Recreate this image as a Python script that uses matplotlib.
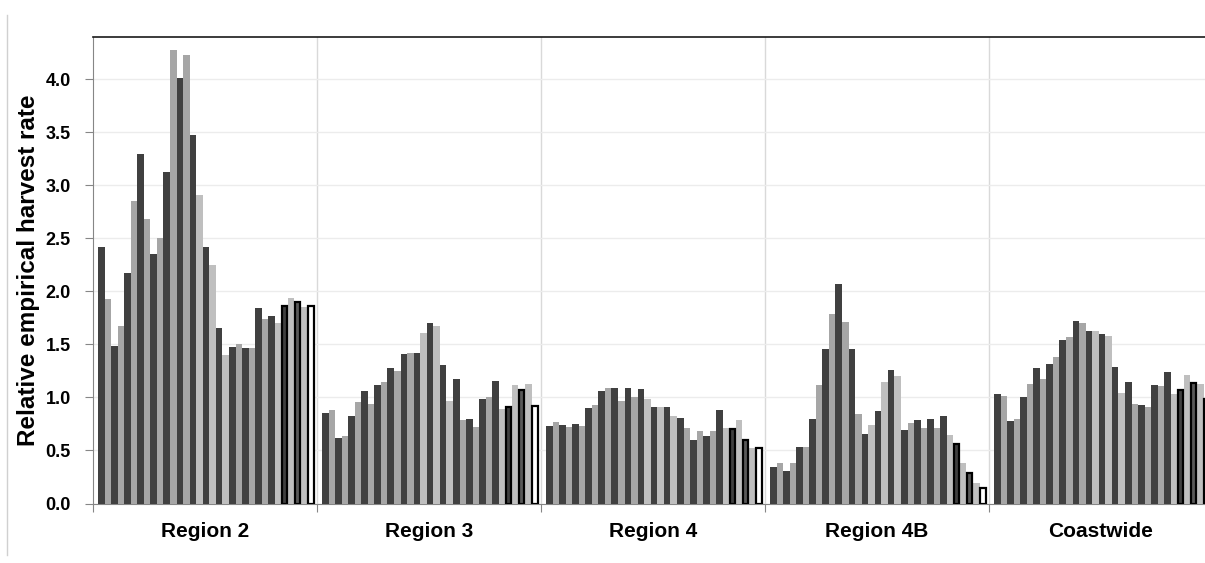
import matplotlib
matplotlib.use("Agg")
import matplotlib.pyplot as plt
from matplotlib.lines import Line2D

regions = ["Region 2", "Region 3", "Region 4", "Region 4B", "Coastwide"]

region2 = [2.42, 1.93, 1.49, 1.67, 2.17, 2.85, 3.30, 2.68, 2.35, 2.50, 3.13, 4.28, 4.01, 4.23,
           3.48, 2.91, 2.42, 2.25, 1.66, 1.40, 1.48, 1.50, 1.47, 1.47, 1.84, 1.74, 1.77, 1.70,
           1.86, 1.94, 1.90, 1.85, 1.86]
region3 = [0.85, 0.88, 0.62, 0.64, 0.83, 0.96, 1.06, 0.94, 1.12, 1.15, 1.28, 1.25, 1.41, 1.42,
           1.42, 1.61, 1.70, 1.67, 1.31, 0.97, 1.17, 0.79, 0.80, 0.72, 0.99, 1.00, 1.16, 0.89,
           0.91, 1.12, 1.07, 1.13, 0.92]
region4 = [0.73, 0.77, 0.74, 0.72, 0.75, 0.73, 0.90, 0.93, 1.06, 1.09, 1.09, 0.97, 1.09, 1.00,
           1.08, 0.99, 0.91, 0.91, 0.91, 0.83, 0.81, 0.71, 0.60, 0.68, 0.64, 0.68, 0.88, 0.71,
           0.70, 0.79, 0.60, 0.52, 0.52]
region4b = [0.34, 0.38, 0.31, 0.38, 0.53, 0.53, 0.80, 1.12, 1.46, 1.79, 2.07, 1.71, 1.46, 0.84,
            0.66, 0.74, 0.87, 1.15, 1.26, 1.20, 0.69, 0.76, 0.79, 0.71, 0.80, 0.71, 0.83, 0.65,
            0.56, 0.38, 0.29, 0.19, 0.15]
coastwide = [1.03, 1.01, 0.78, 0.80, 1.00, 1.13, 1.28, 1.17, 1.32, 1.38, 1.54, 1.57, 1.72, 1.70,
             1.63, 1.63, 1.60, 1.58, 1.29, 1.04, 1.15, 0.94, 0.93, 0.91, 1.12, 1.11, 1.24, 1.03,
             1.07, 1.21, 1.14, 1.13, 0.99]
series = [region2, region3, region4, region4b, coastwide]

DARK, MID, LIGHT = "#404040", "#a6a6a6", "#bfbfbf"
fill_colors = [DARK, MID] * 7 + [DARK, LIGHT, DARK, LIGHT, DARK, LIGHT, DARK, MID, DARK, MID,
                                 DARK, MID, DARK, LIGHT, DARK, LIGHT, "#595959", LIGHT, "#ffffff"]
edge_colors = [None] * 28 + ["#000000", None, "#000000", None, "#000000"]

plt.rcParams['font.family'] = ['Liberation Sans', 'DejaVu Sans']

W = 34.2
fig = plt.figure(figsize=(12.05, 5.63), dpi=100)
ax = fig.add_axes([93 / 1205, 1 - 503.5 / 563, (1213 - 93) / 1205, (503.5 - 37) / 563])

for i, vals in enumerate(series):
    for j, v in enumerate(vals):
        fc = fill_colors[j]
        ec = edge_colors[j]
        if ec is None:
            ax.bar(i * W + 0.76 + j, v, width=1.0, align='edge', color=fc, linewidth=0, zorder=3)
        else:
            ax.bar(i * W + 0.76 + j + 0.08, v, width=0.84, align='edge', color=fc,
                   edgecolor=ec, linewidth=1.6, zorder=4)

ax.set_xlim(0, 5 * W)
ax.set_ylim(0, 4.4)
ax.set_yticks([0, 0.5, 1.0, 1.5, 2.0, 2.5, 3.0, 3.5, 4.0])
ax.set_yticklabels([f"{t:.1f}" for t in ax.get_yticks()], fontsize=13, fontweight='bold')
ax.yaxis.grid(True, color="#ececec", linewidth=1.0, zorder=0)
for i in range(1, 5):
    ax.axvline(i * W, color="#d9d9d9", linewidth=1.0, zorder=1)

ax.set_xticks([i * W for i in range(6)])
ax.set_xticklabels([])
ax.set_xticks([(i + 0.5) * W for i in range(5)], minor=True)
ax.set_xticklabels(regions, minor=True, fontsize=15, fontweight='bold')
ax.tick_params(axis='x', which='minor', length=0, pad=13)
ax.tick_params(axis='x', which='major', length=6, color="#868686", direction='out')
ax.tick_params(axis='y', length=6, color="#868686", direction='out', pad=10)

ax.spines['left'].set_color("#868686")
ax.spines['bottom'].set_color("#868686")
ax.spines['top'].set_color("#1a1a1a")
ax.spines['top'].set_linewidth(1.2)
ax.spines['right'].set_visible(False)

ax.set_ylabel("Relative empirical harvest rate", fontsize=17.5, fontweight='bold', labelpad=4)

fig.add_artist(Line2D([7.5 / 1205, 7.5 / 1205], [1 - 15 / 563, 1 - 555 / 563],
                      color="#d0d0d0", linewidth=1.0))

fig.savefig("out.png", dpi=100)
